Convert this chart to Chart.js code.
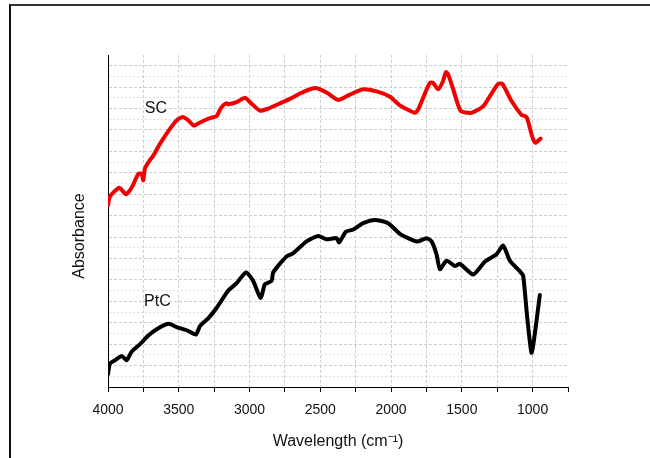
<!DOCTYPE html>
<html>
<head>
<meta charset="utf-8">
<script src="https://cdn.jsdelivr.net/npm/chart.js@4"></script>
<style>
  body { margin: 0; background: #fff; }
  #wrap { position: relative; width: 650px; height: 458px; }
  #frame { position: absolute; left: 9px; top: 4px; right: 0; bottom: 0;
           border-left: 2px solid #111; border-top: 2px solid #333; }
  canvas { position: absolute; left: 0; top: 0; }
</style>
</head>
<body>
<div id="wrap">
  <div id="frame"></div>
  <canvas id="ftir" width="650" height="458"></canvas>
</div>
<script>
// SC spectrum (red)
const scWavenumber = [4000, 3986, 3920, 3873, 3833, 3786, 3762, 3751, 3739, 3703, 3680, 3633, 3574, 3515, 3472, 3433, 3393, 3350, 3280, 3232, 3209, 3186, 3162, 3150, 3091, 3032, 2997, 2927, 2868, 2833, 2715, 2644, 2573, 2526, 2456, 2374, 2291, 2197, 2102, 2008, 1938, 1832, 1809, 1761, 1726, 1703, 1667, 1632, 1613, 1597, 1561, 1509, 1432, 1350, 1290, 1244, 1213, 1149, 1078, 1055, 1039, 1001, 980, 944];
const scAbsorbance = [17.0, 17.8, 18.6, 18.0, 18.6, 19.9, 19.9, 19.3, 20.4, 21.2, 21.6, 22.7, 23.9, 24.9, 25.2, 24.9, 24.4, 24.7, 25.1, 25.3, 25.9, 26.3, 26.5, 26.4, 26.6, 27.0, 26.6, 25.8, 26.0, 26.2, 26.9, 27.4, 27.8, 27.9, 27.5, 26.8, 27.3, 27.8, 27.6, 27.1, 26.3, 25.6, 25.9, 27.4, 28.4, 28.4, 27.8, 28.6, 29.4, 29.2, 27.8, 25.8, 25.6, 26.2, 27.4, 28.3, 28.3, 26.7, 25.4, 25.3, 25.1, 23.3, 22.8, 23.2];

// PtC spectrum (black)
const ptcWavenumber = [4000, 3986, 3951, 3903, 3868, 3833, 3774, 3715, 3656, 3574, 3515, 3444, 3379, 3350, 3292, 3232, 3150, 3091, 3025, 2974, 2922, 2891, 2844, 2833, 2738, 2691, 2597, 2515, 2456, 2385, 2367, 2319, 2268, 2197, 2114, 2021, 1938, 1844, 1809, 1749, 1714, 1679, 1655, 1608, 1549, 1514, 1420, 1338, 1255, 1208, 1161, 1090, 1067, 1039, 1008, 989, 949];
const ptcAbsorbance = [1.2, 2.2, 2.5, 2.9, 2.5, 3.3, 4.0, 4.8, 5.4, 5.9, 5.6, 5.3, 4.9, 5.7, 6.4, 7.4, 9.0, 9.7, 10.7, 9.9, 8.3, 9.6, 9.9, 10.7, 12.2, 12.5, 13.6, 14.1, 13.8, 13.9, 13.5, 14.5, 14.7, 15.3, 15.6, 15.3, 14.3, 13.7, 13.6, 13.9, 13.6, 12.4, 11.0, 11.8, 11.3, 11.5, 10.5, 11.7, 12.4, 13.2, 11.8, 10.8, 10.4, 6.6, 3.2, 4.5, 8.6];

// curve labels, placed in data units
const curveLabels = ['SC', 'PtC'];
const labelWavenumber = [3740, 3745];
const labelAbsorbance = [26.0, 8.0];

const xTickLabels = [4000, 3500, 3000, 2500, 2000, 1500, 1000];

function pairs(xs, ys) {
  return xs.map((x, i) => ({ x: x, y: ys[i] }));
}

Chart.defaults.font.family = "'Liberation Sans', Arial, sans-serif";
Chart.defaults.color = '#111';

// curve names and the y axis title (drawn by hand so it can sit a bit below centre)
const textPlugin = {
  id: 'textBits',
  afterDatasetsDraw(chart) {
    const ctx = chart.ctx;
    const xs = chart.scales.x, ys = chart.scales.y;
    ctx.save();
    ctx.font = "16px 'Liberation Sans', Arial, sans-serif";
    ctx.fillStyle = '#111';
    ctx.textBaseline = 'middle';
    curveLabels.forEach((txt, i) => {
      ctx.fillText(txt, xs.getPixelForValue(labelWavenumber[i]), ys.getPixelForValue(labelAbsorbance[i]));
    });
    ctx.translate(80, 236);
    ctx.rotate(-Math.PI / 2);
    ctx.textAlign = 'center';
    ctx.fillText('Absorbance', 0, 0);
    ctx.restore();
  }
};

new Chart(document.getElementById('ftir'), {
  type: 'line',
  data: {
    datasets: [{
      label: 'SC',
      data: pairs(scWavenumber, scAbsorbance),
      borderColor: 'rgb(240, 0, 0)',
      borderWidth: 4,
      pointRadius: 0,
      tension: 0.2,
      borderJoinStyle: 'round',
      borderCapStyle: 'round'
    }, {
      label: 'PtC',
      data: pairs(ptcWavenumber, ptcAbsorbance),
      borderColor: '#000',
      borderWidth: 4,
      pointRadius: 0,
      tension: 0.2,
      borderJoinStyle: 'round',
      borderCapStyle: 'round'
    }]
  },
  options: {
    responsive: false,
    animation: false,
    layout: { padding: { top: 55, right: 82, bottom: 7, left: 108 } },
    plugins: {
      legend: { display: false },
      tooltip: { enabled: false }
    },
    scales: {
      x: {
        type: 'linear',
        reverse: true,
        min: 750,
        max: 4000,
        ticks: {
          stepSize: 250,
          autoSkip: false,
          maxRotation: 0,
          padding: 10,
          font: { size: 14 },
          color: '#111',
          callback: v => xTickLabels.includes(v) ? String(v) : ''
        },
        grid: {
          color: c => (c.tick && (c.tick.value === 4000 || c.tick.value === 750)) ? 'rgba(0,0,0,0)' : '#cfcfcf',
          tickColor: '#000',
          tickLength: 5,
          tickBorderDash: [],
          lineWidth: 1
        },
        border: { color: '#000', width: 1, dash: [3, 2] },
        title: {
          display: true,
          text: 'Wavelength (cm⁻¹)',
          font: { size: 16 },
          color: '#111',
          padding: { top: 3, bottom: 0 }
        }
      },
      y: {
        min: 0,
        max: 31,
        ticks: { display: false, stepSize: 1 },
        grid: {
          drawTicks: false,
          color: c => {
            const v = c.tick ? c.tick.value : 0;
            if (v === 0 || v === 31) return 'rgba(0,0,0,0)';
            return v % 2 === 0 ? '#cdcdcd' : '#dedede';
          }
        },
        border: {
          color: '#000',
          width: 1,
          dash: c => (c.tick && c.tick.value % 2 === 0) ? [3, 2] : [2, 2]
        },
        title: { display: false }
      }
    }
  },
  plugins: [textPlugin]
});
</script>
</body>
</html>
